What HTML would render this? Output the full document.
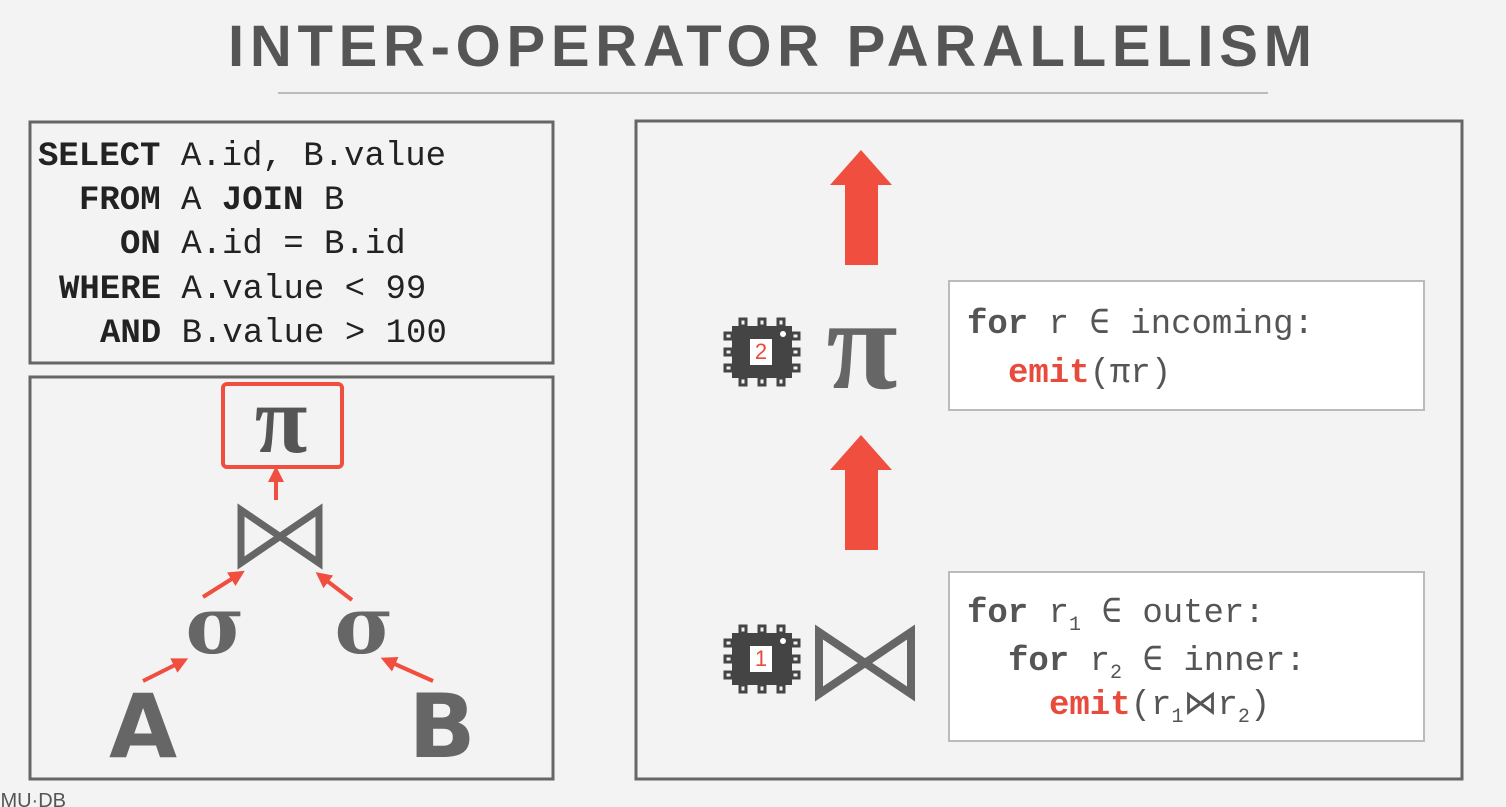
<!DOCTYPE html>
<html><head><meta charset="utf-8"><style>
html,body{margin:0;padding:0;background:#f3f3f3;width:1506px;height:807px;overflow:hidden}
svg{display:block}
text{white-space:pre}
.m{font-family:"Liberation Mono","DejaVu Sans Mono",monospace;font-size:34px;fill:#222}
.b{font-weight:bold}
.c{font-family:"Liberation Mono","DejaVu Sans Mono",monospace;font-size:34px;fill:#555}
.r{fill:#e84a3c;font-weight:bold}
</style></head><body>
<svg width="1506" height="807" viewBox="0 0 1506 807" xmlns="http://www.w3.org/2000/svg">
<defs>
<marker id="ah" markerWidth="4" markerHeight="4" refX="2" refY="2" orient="auto" markerUnits="strokeWidth">
<path d="M0,0 L4,2 L0,4 z" fill="#f04e3e"/></marker>
<g id="chip">
<rect x="8" y="8" width="60" height="52" fill="#444"/>
<g stroke="#444" stroke-width="3" fill="none">
<rect x="16" y="1" width="6" height="7"/><rect x="35" y="1" width="6" height="7"/><rect x="54" y="1" width="6" height="7"/>
<rect x="16" y="60" width="6" height="7"/><rect x="35" y="60" width="6" height="7"/><rect x="54" y="60" width="6" height="7"/>
<rect x="1" y="15" width="7" height="6"/><rect x="1" y="31" width="7" height="6"/><rect x="1" y="47" width="7" height="6"/>
<rect x="68" y="15" width="7" height="6"/><rect x="68" y="31" width="7" height="6"/><rect x="68" y="47" width="7" height="6"/>
</g>
<rect x="26" y="21" width="22" height="26" fill="#fff"/>
<circle cx="59" cy="16" r="3" fill="#fff"/>
</g>
</defs>
<text x="770" y="66" text-anchor="middle" font-family="Liberation Sans,sans-serif" font-weight="bold" font-size="58" fill="#555" textLength="1084" lengthAdjust="spacing">INTER-OPERATOR PARALLELISM</text>
<line x1="278" y1="93" x2="1268" y2="93" stroke="#bbb" stroke-width="2"/>

<rect x="30" y="122" width="523" height="241" fill="none" stroke="#666" stroke-width="3"/>
<rect x="30" y="377" width="523" height="402" fill="none" stroke="#666" stroke-width="3"/>
<rect x="636" y="121" width="826" height="658" fill="none" stroke="#666" stroke-width="3"/>

<g class="m">
<text x="38" y="165"><tspan class="b">SELECT</tspan> A.id, B.value</text>
<text x="79" y="209"><tspan class="b">FROM</tspan> A <tspan class="b">JOIN</tspan> B</text>
<text x="120" y="253"><tspan class="b">ON</tspan> A.id = B.id</text>
<text x="59" y="298"><tspan class="b">WHERE</tspan> A.value &lt; 99</text>
<text x="100" y="342"><tspan class="b">AND</tspan> B.value &gt; 100</text>
</g>

<!-- tree -->
<rect x="223" y="384" width="119" height="83" rx="4" fill="none" stroke="#f04e3e" stroke-width="4"/>
<text x="281" y="452" text-anchor="middle" font-family="Liberation Serif,serif" font-weight="bold" font-size="96" fill="#555">π</text>
<path d="M241,510 L241,563 L319,510 L319,563 Z" fill="none" stroke="#666" stroke-width="7" stroke-linejoin="miter"/>
<text x="215" y="653" text-anchor="middle" font-family="DejaVu Serif,serif" font-weight="bold" font-size="80" fill="#666">σ</text>
<text x="364" y="653" text-anchor="middle" font-family="DejaVu Serif,serif" font-weight="bold" font-size="80" fill="#666">σ</text>
<text x="143" y="757" text-anchor="middle" font-family="DejaVu Sans,sans-serif" font-weight="bold" font-size="88" fill="#666">A</text>
<text x="442" y="757" text-anchor="middle" font-family="DejaVu Sans,sans-serif" font-weight="bold" font-size="88" fill="#666">B</text>
<g stroke="#f04e3e" stroke-width="4" marker-end="url(#ah)">
<line x1="276" y1="500" x2="276" y2="474"/>
<line x1="203" y1="597" x2="238" y2="575"/>
<line x1="352" y1="600" x2="322" y2="577"/>
<line x1="143" y1="681" x2="181" y2="662"/>
<line x1="433" y1="681" x2="388" y2="661"/>
</g>

<!-- right panel -->
<path d="M845,265 L845,185 L830,185 L861,150 L892,185 L878,185 L878,265 Z" fill="#f04e3e"/>
<path d="M845,550 L845,470 L830,470 L861,435 L892,470 L878,470 L878,550 Z" fill="#f04e3e"/>

<use href="#chip" x="724" y="318"/>
<text x="761" y="359" text-anchor="middle" font-family="Liberation Sans,sans-serif" font-size="22" fill="#e84a3c">2</text>
<use href="#chip" x="724" y="625"/>
<text x="761" y="666" text-anchor="middle" font-family="Liberation Sans,sans-serif" font-size="22" fill="#e84a3c">1</text>

<text x="862" y="388" text-anchor="middle" font-family="Liberation Serif,serif" font-weight="bold" font-size="130" fill="#666">π</text>
<path d="M819,632 L819,694 L911,632 L911,694 Z" fill="none" stroke="#666" stroke-width="8"/>

<rect x="949" y="281" width="475" height="129" fill="#fff" stroke="#bbb" stroke-width="2"/>
<rect x="949" y="572" width="475" height="169" fill="#fff" stroke="#bbb" stroke-width="2"/>
<g class="c">
<text x="967" y="333"><tspan class="b">for</tspan> r ∈ incoming:</text>
<text x="1008" y="382"><tspan class="r">emit</tspan>(πr)</text>
<text x="967" y="622"><tspan class="b">for</tspan> r<tspan font-size="20" dy="8">1</tspan><tspan dy="-8"> ∈ outer:</tspan></text>
<text x="1008" y="670"><tspan class="b">for</tspan> r<tspan font-size="20" dy="8">2</tspan><tspan dy="-8"> ∈ inner:</tspan></text>
<text x="1049" y="714"><tspan class="r">emit</tspan>(r<tspan font-size="20" dy="8">1</tspan><tspan dy="-8">⋈r</tspan><tspan font-size="20" dy="8">2</tspan><tspan dy="-8">)</tspan></text>
</g>

<text x="-14" y="807" font-family="Liberation Sans,sans-serif" font-size="20" fill="#555">CMU·DB</text>
</svg>
</body></html>
